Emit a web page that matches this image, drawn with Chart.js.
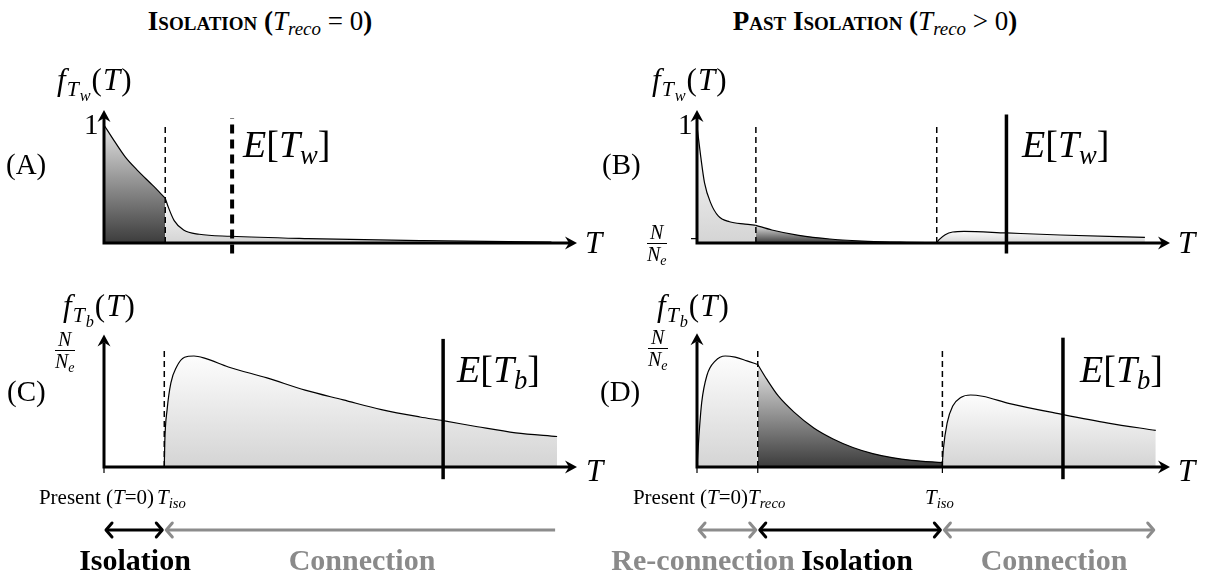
<!DOCTYPE html>
<html>
<head>
<meta charset="utf-8">
<script src="https://cdn.jsdelivr.net/npm/chart.js@4.4.1/dist/chart.umd.min.js"></script>
<style>
  html, body { margin: 0; padding: 0; background: #fff; }
  body { width: 1207px; height: 579px; position: relative; overflow: hidden; font-family: "Liberation Serif", Tinos, "Times New Roman", Times, "DejaVu Serif", serif; color: #000; }
  canvas { position: absolute; }
  .t { position: absolute; line-height: 1; white-space: nowrap; }
  .c { transform: translateX(-50%); }
  .r { transform: translateX(-100%); }
  .title { font-size: 27px; font-weight: bold; font-variant: small-caps; }
  .title i, .title .m { font-weight: normal; font-variant: normal; }
  sub { font-size: 70%; vertical-align: -0.28em; line-height: 0; }
  sub sub { font-size: 75%; }
  .lbl { font-size: 29px; }
  .fl { font-size: 31px; letter-spacing: 1px; }
  .ex { font-size: 38px; }
  .ax { font-size: 31px; font-style: italic; }
  .small { font-size: 21px; }
  .phase { font-size: 30px; font-weight: bold; }
  .grey { color: #8a8a8a; }
  .frac { display: inline-block; text-align: center; font-size: 20px; }
  .frac span { display: block; line-height: 1; }
  .frac .num { border-bottom: 1px solid #000; padding: 0 2px 1px; }
</style>
</head>
<body>

<canvas id="chA" width="560" height="185" style="left:60px;top:100px"></canvas>
<canvas id="chB" width="560" height="185" style="left:640px;top:100px"></canvas>
<canvas id="chC" width="560" height="215" style="left:60px;top:330px"></canvas>
<canvas id="chD" width="560" height="215" style="left:640px;top:330px"></canvas>

<!-- titles -->
<div class="t c title" style="left:260px;top:8px">Isolation (<i>T</i><sub><i>reco</i></sub><span class="m"> = 0</span>)</div>
<div class="t c title" style="left:875px;top:8px">Past Isolation (<i>T</i><sub><i>reco</i></sub><span class="m"> &gt; 0</span>)</div>

<!-- panel A -->
<div class="t fl" style="left:57px;top:64px"><i>f</i><sub><i>T</i><sub><i>w</i></sub></sub>(<i>T</i>)</div>
<div class="t lbl" style="left:84px;top:110px">1</div>
<div class="t lbl" style="left:6px;top:150px">(A)</div>
<div class="t ex" style="left:243px;top:125px"><i>E</i>[<i>T</i><sub><i>w</i></sub>]</div>
<div class="t ax" style="left:585px;top:227px">T</div>

<!-- panel B -->
<div class="t fl" style="left:652px;top:64px"><i>f</i><sub><i>T</i><sub><i>w</i></sub></sub>(<i>T</i>)</div>
<div class="t lbl" style="left:678px;top:110px">1</div>
<div class="t lbl" style="left:602px;top:150px">(B)</div>
<div class="t" style="left:647px;top:222px"><span class="frac"><span class="num"><i>N</i></span><span><i>N</i><sub><i>e</i></sub></span></span></div>
<div class="t ex" style="left:1022px;top:125px"><i>E</i>[<i>T</i><sub><i>w</i></sub>]</div>
<div class="t ax" style="left:1178px;top:227px">T</div>

<!-- panel C -->
<div class="t fl" style="left:63px;top:290px"><i>f</i><sub><i>T</i><sub><i>b</i></sub></sub>(<i>T</i>)</div>
<div class="t" style="left:55px;top:329px"><span class="frac"><span class="num"><i>N</i></span><span><i>N</i><sub><i>e</i></sub></span></span></div>
<div class="t lbl" style="left:7px;top:377px">(C)</div>
<div class="t ex" style="left:457px;top:350px"><i>E</i>[<i>T</i><sub><i>b</i></sub>]</div>
<div class="t ax" style="left:586px;top:455px">T</div>
<div class="t small r" style="left:154px;top:487px">Present (<i>T</i>=0)</div>
<div class="t small" style="left:157px;top:487px"><i>T</i><sub><i>iso</i></sub></div>
<div class="t c phase" style="left:135px;top:545px">Isolation</div>
<div class="t c phase grey" style="left:362px;top:545px">Connection</div>

<!-- panel D -->
<div class="t fl" style="left:657px;top:290px"><i>f</i><sub><i>T</i><sub><i>b</i></sub></sub>(<i>T</i>)</div>
<div class="t" style="left:648px;top:327px"><span class="frac"><span class="num"><i>N</i></span><span><i>N</i><sub><i>e</i></sub></span></span></div>
<div class="t lbl" style="left:600px;top:377px">(D)</div>
<div class="t ex" style="left:1080px;top:350px"><i>E</i>[<i>T</i><sub><i>b</i></sub>]</div>
<div class="t ax" style="left:1178px;top:455px">T</div>
<div class="t small r" style="left:748px;top:487px">Present (<i>T</i>=0)</div>
<div class="t small" style="left:748px;top:487px"><i>T</i><sub><i>reco</i></sub></div>
<div class="t small" style="left:925px;top:487px"><i>T</i><sub><i>iso</i></sub></div>
<div class="t c phase grey" style="left:703px;top:545px">Re-connection</div>
<div class="t c phase" style="left:857px;top:545px">Isolation</div>
<div class="t c phase grey" style="left:1054px;top:545px">Connection</div>

<script>
// ---- data (T in arbitrary time units, f as fraction of the y-axis mark) ----
// panel A: isolation, within-deme coalescence
const aIsoT = [0, 0.21, 0.45, 0.70, 1.03, 1.30];
const aIsoF = [1.00, 0.87, 0.73, 0.62, 0.49, 0.38];
const aConT = [1.30, 1.36, 1.49, 1.69, 2.02, 2.69, 4.34, 6.8, 9.5];
const aConF = [0.38, 0.31, 0.19, 0.11, 0.074, 0.057, 0.037, 0.02, 0.008];
const aMarks = { tIso: 1.30, mean: 2.72 };

// panel B: past isolation, within-deme
const bRecT = [0, 0.08, 0.16, 0.29, 0.45, 0.69, 1.02, 1.25];
const bRecF = [0.99, 0.73, 0.51, 0.34, 0.23, 0.18, 0.16, 0.15];
const bIsoT = [1.25, 1.59, 2.16, 2.82, 3.63, 4.45, 5.09];
const bIsoF = [0.15, 0.11, 0.065, 0.034, 0.014, 0.006, 0.003];
const bConT = [5.09, 5.14, 5.27, 5.43, 5.67, 6.57, 7.71, 9.51];
const bConF = [0.003, 0.028, 0.07, 0.093, 0.099, 0.085, 0.068, 0.048];
const bMarks = { tReco: 1.25, tIso: 5.09, mean: 6.57, nNe: 0.037 };

// panel C: isolation, between-deme
const cConT = [1.28, 1.29, 1.34, 1.42, 1.54, 1.71, 1.91, 2.15, 2.64, 3.46, 4.27, 5.08, 5.89, 6.71, 7.2, 7.93, 8.74, 9.62];
const cConF = [0, 0.2, 0.47, 0.69, 0.82, 0.90, 0.91, 0.89, 0.82, 0.73, 0.63, 0.55, 0.47, 0.41, 0.38, 0.33, 0.28, 0.25];
const cMarks = { tIso: 1.28, mean: 7.2 };

// panel D: past isolation, between-deme
const dRecT = [0, 0.04, 0.10, 0.21, 0.39, 0.60, 0.81, 1.06, 1.29];
const dRecF = [0, 0.25, 0.53, 0.75, 0.87, 0.91, 0.90, 0.87, 0.84];
const dIsoT = [1.29, 1.48, 1.73, 2.06, 2.48, 2.89, 3.31, 3.73, 4.14, 4.56, 5.21];
const dIsoF = [0.84, 0.72, 0.58, 0.45, 0.32, 0.23, 0.16, 0.11, 0.077, 0.055, 0.036];
const dConT = [5.21, 5.23, 5.31, 5.43, 5.60, 5.81, 6.06, 6.64, 7.77, 8.73, 9.74];
const dConF = [0.036, 0.145, 0.36, 0.50, 0.57, 0.59, 0.58, 0.52, 0.43, 0.36, 0.30];
const dMarks = { tReco: 1.29, tIso: 5.21, mean: 7.77 };

const xTip = 10;

// ---- helpers ----
const pts = (xs, ys) => xs.map((x, i) => ({ x: x, y: ys[i] }));

function shade(kind, top) {
    return (context) => {
        const c = context.chart;
        if (!c.chartArea) return null;
        const ys = c.scales.y;
        const g = c.ctx.createLinearGradient(0, ys.getPixelForValue(top), 0, ys.getPixelForValue(0));
        if (kind === 'dark') {
            g.addColorStop(0, '#e4e4e4');
            g.addColorStop(1, '#3c3c3c');
        } else {
            g.addColorStop(0, '#fdfdfd');
            g.addColorStop(1, '#d4d4d4');
        }
        return g;
    };
}

function piece(xs, ys, kind) {
    return {
        data: pts(xs, ys),
        borderColor: '#000',
        borderWidth: 1.2,
        backgroundColor: shade(kind, Math.max(...ys)),
        fill: 'origin',
        cubicInterpolationMode: 'monotone',
        pointRadius: 0,
        order: 2
    };
}

function vline(t, y0, y1, width, dash) {
    return {
        data: [{ x: t, y: y0 }, { x: t, y: y1 }],
        borderColor: '#000',
        borderWidth: width,
        borderDash: dash || [],
        fill: false,
        pointRadius: 0,
        order: 1
    };
}

function arrowHead(ctx, x, y, ang) {
    ctx.save();
    ctx.translate(x, y);
    ctx.rotate(ang);
    ctx.beginPath();
    ctx.moveTo(2, 0);
    ctx.lineTo(-10, -6.5);
    ctx.lineTo(-6, 0);
    ctx.lineTo(-10, 6.5);
    ctx.closePath();
    ctx.fill();
    ctx.restore();
}

function chevron(ctx, x, y, dir, color) {
    ctx.save();
    ctx.strokeStyle = color;
    ctx.lineWidth = 3;
    ctx.lineCap = 'round';
    ctx.lineJoin = 'round';
    ctx.beginPath();
    ctx.moveTo(x - 6 * dir, y - 7);
    ctx.lineTo(x, y);
    ctx.lineTo(x - 6 * dir, y + 7);
    ctx.stroke();
    ctx.restore();
}

// axes with arrow tips, little ticks and the phase arrows underneath
const axesPlugin = {
    id: 'axes',
    afterDatasetsDraw(chart, args, opts) {
        const { ctx, scales: { x, y } } = chart;
        const x0 = x.getPixelForValue(0), y0 = y.getPixelForValue(0);
        const xt = x.getPixelForValue(opts.xTip), yt = y.getPixelForValue(opts.yTip);
        ctx.save();
        ctx.strokeStyle = '#000';
        ctx.fillStyle = '#000';
        ctx.lineWidth = 3;
        ctx.beginPath();
        ctx.moveTo(x0 - 1.5, y0);
        ctx.lineTo(xt - 6, y0);
        ctx.moveTo(x0, y0 + 1.5);
        ctx.lineTo(x0, yt + 6);
        ctx.stroke();
        arrowHead(ctx, xt, y0, 0);
        arrowHead(ctx, x0, yt, -Math.PI / 2);

        ctx.lineWidth = 1.2;
        (opts.ticksX || []).forEach(t => {
            const px = x.getPixelForValue(t);
            ctx.beginPath();
            ctx.moveTo(px, y0 - 3);
            ctx.lineTo(px, y0 + 6);
            ctx.stroke();
        });
        (opts.ticksY || []).forEach(v => {
            const py = y.getPixelForValue(v);
            ctx.beginPath();
            ctx.moveTo(x0 - 6, py);
            ctx.lineTo(x0, py);
            ctx.stroke();
        });

        (opts.spans || []).forEach(s => {
            const ay = y0 + 63;
            const a = x.getPixelForValue(s.from), b = x.getPixelForValue(s.to);
            ctx.strokeStyle = s.color;
            ctx.lineWidth = 3;
            ctx.beginPath();
            ctx.moveTo(a + 2, ay);
            ctx.lineTo(b - 2, ay);
            ctx.stroke();
            if (s.left) chevron(ctx, a + 2, ay, -1, s.color);
            if (s.right) chevron(ctx, b - 2, ay, 1, s.color);
        });
        ctx.restore();
    }
};

// canvas box -> scale limits so that T=0, f=0 land on the axis origin
function makeChart(id, box, origin, unit, datasets, axesOpts) {
    const el = document.getElementById(id);
    return new Chart(el, {
        type: 'line',
        data: { datasets: datasets },
        options: {
            responsive: false,
            animation: false,
            layout: { padding: 0 },
            events: [],
            scales: {
                x: { type: 'linear', display: false,
                     min: (box.left - origin.x) / unit.x,
                     max: (box.left + box.w - origin.x) / unit.x },
                y: { type: 'linear', display: false,
                     min: (origin.y - box.top - box.h) / unit.y,
                     max: (origin.y - box.top) / unit.y }
            },
            plugins: {
                legend: { display: false },
                tooltip: { enabled: false },
                axes: axesOpts
            }
        },
        plugins: [axesPlugin]
    });
}

const grey = '#8c8c8c';

makeChart('chA', { left: 60, top: 100, w: 560, h: 185 }, { x: 104, y: 243 }, { x: 47.1, y: 118 }, [
    vline(aMarks.tIso, 0, 1.0, 1.5, [6, 4]),
    vline(aMarks.mean, -0.09, 1.06, 4, [9, 6]),
    piece(aIsoT, aIsoF, 'dark'),
    piece(aConT, aConF, 'light')
], { xTip: xTip, yTip: 1.11 });

makeChart('chB', { left: 640, top: 100, w: 560, h: 185 }, { x: 697, y: 243 }, { x: 47.1, y: 118 }, [
    vline(bMarks.tReco, 0, 1.0, 1.5, [6, 4]),
    vline(bMarks.tIso, 0, 1.0, 1.5, [6, 4]),
    vline(bMarks.mean, -0.09, 1.09, 3.5),
    piece(bRecT, bRecF, 'light'),
    piece(bIsoT, bIsoF, 'dark'),
    piece(bConT, bConF, 'light')
], { xTip: xTip, yTip: 1.11, ticksY: [bMarks.nNe] });

makeChart('chC', { left: 60, top: 330, w: 560, h: 215 }, { x: 104, y: 467 }, { x: 47.1, y: 122 }, [
    vline(cMarks.tIso, 0, 0.98, 1.5, [6, 4]),
    vline(cMarks.mean, -0.1, 1.05, 3.5),
    piece(cConT, cConF, 'light')
], {
    xTip: xTip, yTip: 1.07, ticksX: [0],
    spans: [
        { from: 0, to: cMarks.tIso, color: '#000', left: true, right: true },
        { from: cMarks.tIso, to: cConT[cConT.length - 1], color: grey, left: true, right: false }
    ]
});

makeChart('chD', { left: 640, top: 330, w: 560, h: 215 }, { x: 697, y: 467 }, { x: 47.1, y: 122 }, [
    vline(dMarks.tReco, 0, 0.98, 1.5, [6, 4]),
    vline(dMarks.tIso, 0, 0.98, 1.5, [6, 4]),
    vline(dMarks.mean, -0.1, 1.06, 3.5),
    piece(dRecT, dRecF, 'light'),
    piece(dIsoT, dIsoF, 'dark'),
    piece(dConT, dConF, 'light')
], {
    xTip: xTip, yTip: 1.08, ticksX: [0, dMarks.tReco, dMarks.tIso],
    spans: [
        { from: 0, to: dMarks.tReco, color: grey, left: true, right: true },
        { from: dMarks.tReco, to: dMarks.tIso, color: '#000', left: true, right: true },
        { from: dMarks.tIso, to: dConT[dConT.length - 1], color: grey, left: true, right: true }
    ]
});
</script>
</body>
</html>
